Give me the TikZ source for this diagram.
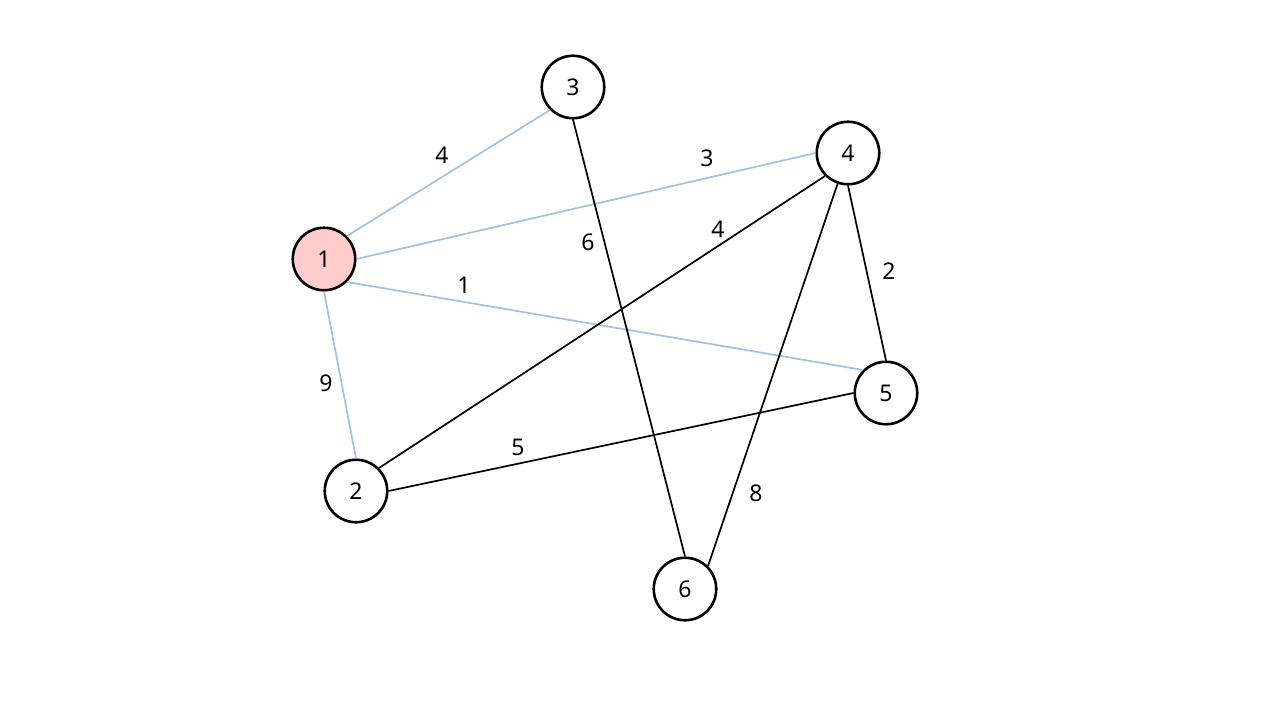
\documentclass[tikz,border=0pt]{standalone}
\usepackage{fontspec}
\setmainfont{Noto Sans}
\begin{document}
\begin{tikzpicture}[x=1pt,y=-1pt,
  vert/.style={circle,draw=black,line width=2.6pt,minimum size=62.5pt,inner sep=0pt,fill=white,font=\fontsize{23}{27}\selectfont},
  start/.style={vert,fill={rgb,255:red,255;green,204;blue,204}},
  bl/.style={draw=black,line width=1.7pt},
  be/.style={draw={rgb,255:red,157;green,195;blue,230},line width=1.7pt},
  wl/.style={font=\fontsize{23}{27}\selectfont}]
\useasboundingbox (0,0) rectangle (1280,720);
\node[start] (n1) at (324,259) {1};
\node[vert] (n2) at (356,491) {2};
\node[vert] (n3) at (573,87) {3};
\node[vert] (n4) at (848,153) {4};
\node[vert] (n5) at (886,393) {5};
\node[vert] (n6) at (685,589) {6};
\draw[be] (n1.north east) -- (n3.south west);
\draw[be] (n1.east) -- (n4.west);
\draw[be] (n1.south east) -- (n5.north west);
\draw[be] (n1.south) -- (n2.north);
\draw[bl] (n3.south) -- (n6.north);
\draw[bl] (n4.south west) -- (n2.north east);
\draw[bl] (n4.south) -- (n5.north);
\draw[bl] (n4) -- (n6.north east);
\draw[bl] (n2.east) -- (n5.west);
\node[wl] (l13) at (442,155) {4};
\node[wl] (l14) at (707,158) {3};
\node[wl] (l15) at (464,285) {1};
\node[wl] (l12) at (326,383) {9};
\node[wl] (l36) at (588,242) {6};
\node[wl] (l42) at (718,229) {4};
\node[wl] (l45) at (889,271) {2};
\node[wl] (l25) at (518,447) {5};
\node[wl] (l46) at (756,493) {8};
\end{tikzpicture}
\end{document}
